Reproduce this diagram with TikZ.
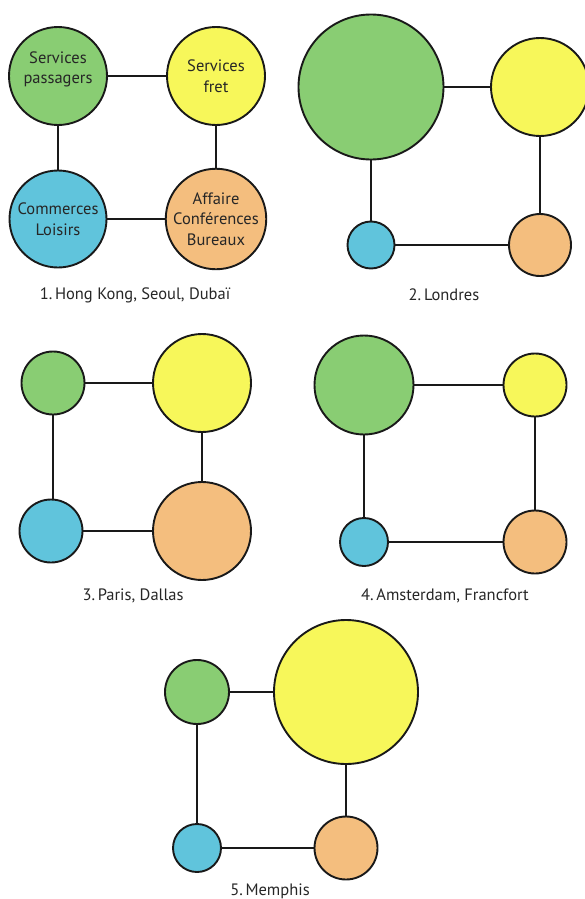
\documentclass[tikz,border=0pt]{standalone}
\usepackage{fontspec}
\setmainfont{PT Sans}
\definecolor{cgreen}{RGB}{137,205,115}
\definecolor{cyellow}{RGB}{247,247,90}
\definecolor{cblue}{RGB}{96,196,220}
\definecolor{corange}{RGB}{244,190,126}
\definecolor{cline}{RGB}{25,25,25}
\begin{document}
\begin{tikzpicture}[x=1pt,y=-1pt,
  bub/.style={circle,draw=cline,line width=1.9pt,inner sep=0pt,align=center,
    font=\fontsize{16.5}{20.5}\selectfont,text=black!85},
  gr/.style={bub,fill=cgreen},
  ye/.style={bub,fill=cyellow},
  bl/.style={bub,fill=cblue},
  orr/.style={bub,fill=corange},
  link/.style={draw=cline,line width=1.8pt},
  captxt/.style={font=\fontsize{16.5}{18}\selectfont,text=black!85}]
\useasboundingbox (0,0) rectangle (584,899);
% Panel 1
\node[gr,minimum size=98pt] (g1) at (58,76) {Services\\passagers\\[-4pt]};
\node[ye,minimum size=98pt] (y1) at (216,76) {Services\\fret};
\node[bl,minimum size=97pt] (b1) at (58,219) {Commerces\\Loisirs};
\node[orr,minimum size=97pt] (o1) at (216,219) {Affaire\\Conférences\\Bureaux};
\path[link] (g1) -- (y1) (g1) -- (b1) (y1) -- (o1) (b1) -- (o1);
\node[captxt] (c1) at (135,295) {1.\,Hong Kong, Seoul, Dubaï};
% Panel 2
\node[gr,minimum size=145pt] (g2) at (371,87) {};
\node[ye,minimum size=98pt] (y2) at (540,87) {};
\node[bl,minimum size=47pt] (b2) at (371,245) {};
\node[orr,minimum size=62pt] (o2) at (540,245) {};
\path[link] (g2) -- (y2) (g2) -- (b2) (y2) -- (o2) (b2) -- (o2);
\node[captxt] (c2) at (444,295) {2.\,Londres};
% Panel 3
\node[gr,minimum size=63pt] (g3) at (53,383) {};
\node[ye,minimum size=98pt] (y3) at (202,383) {};
\node[bl,minimum size=63pt] (b3) at (51,531) {};
\node[orr,minimum size=98pt] (o3) at (202,531) {};
\path[link] (g3) -- (y3) (y3) -- (o3) (b3) -- (o3);
\path[link] (g3.south) -- (g3.south |- b3.north);
\node[captxt] (c3) at (133,596) {3.\,Paris, Dallas};
% Panel 4
\node[gr,minimum size=99pt] (g4) at (364,385) {};
\node[ye,minimum size=63pt] (y4) at (535,385) {};
\node[bl,minimum size=48pt] (b4) at (364,542) {};
\node[orr,minimum size=63pt] (o4) at (535,542) {};
\path[link] (g4) -- (y4) (g4) -- (b4) (y4) -- (o4) (b4) -- (o4);
\node[captxt] (c4) at (445,596) {4.\,Amsterdam, Francfort};
% Panel 5
\node[gr,minimum size=64pt] (g5) at (197,692) {};
\node[ye,minimum size=144pt] (y5) at (346,692) {};
\node[bl,minimum size=48pt] (b5) at (197,848) {};
\node[orr,minimum size=63pt] (o5) at (346,848) {};
\path[link] (g5) -- (y5) (g5) -- (b5) (y5) -- (o5) (b5) -- (o5);
\node[captxt] (c5) at (270,891) {5.\,Memphis};
\end{tikzpicture}
\end{document}
